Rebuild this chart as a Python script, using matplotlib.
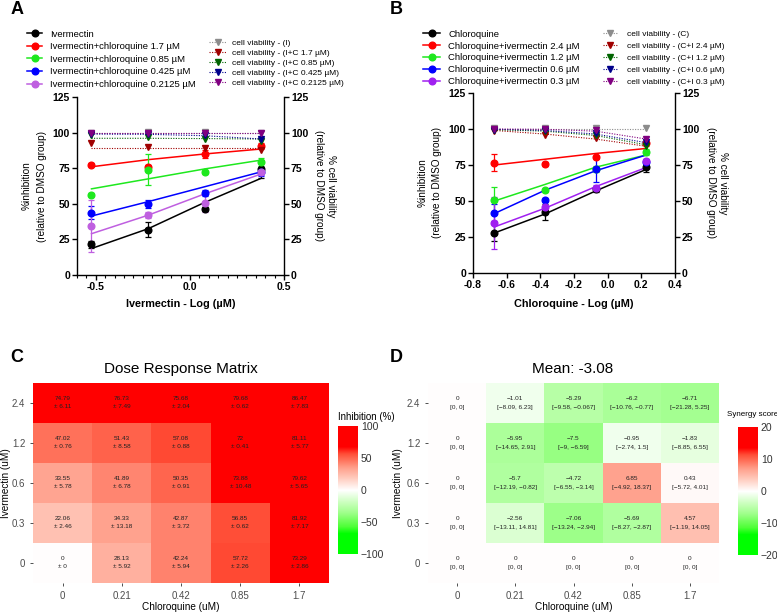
import numpy as np
import matplotlib
matplotlib.use("Agg")
import matplotlib.pyplot as plt
from matplotlib.colors import LinearSegmentedColormap
from matplotlib.lines import Line2D
from matplotlib.ticker import MultipleLocator

plt.rcParams["font.family"] = ["Liberation Sans", "DejaVu Sans"]

W, H = 777, 613

# ---- panel A: ivermectin dose response, x = log10(uM) ----
iver_log = [-0.523, -0.222, 0.079, 0.380]
a_labels = ["Ivermectin", "Ivermectin+chloroquine 1.7 µM", "Ivermectin+chloroquine 0.85 µM",
            "Ivermectin+chloroquine 0.425 µM", "Ivermectin+chloroquine 0.2125 µM"]
a_colors = ["#000000", "#FF0000", "#1EE81E", "#0000FF", "#BF5FE0"]
a_mean = [[21.6, 31.9, 46.5, 74.4],
          [77.4, 75.6, 84.9, 90.7],
          [56.5, 74.0, 72.0, 79.5],
          [43.7, 50.0, 57.4, 72.5],
          [34.4, 42.3, 50.5, 72.0]]
a_sd = [[2.5, 5.5, 1.5, 6.5],
        [1.0, 1.5, 3.0, 2.0],
        [1.0, 11.0, 1.0, 3.0],
        [4.5, 3.0, 2.0, 3.0],
        [18.5, 2.0, 6.5, 2.0]]
a_fit = [[18.6, 32.5, 51.0, 68.0],
         [76.0, 81.0, 85.0, 88.5],
         [60.5, 67.5, 74.5, 80.7],
         [41.4, 51.5, 62.0, 72.5],
         [29.0, 42.0, 57.0, 71.0]]
a_via_labels = ["cell viability - (I)", "cell viability - (I+C 1.7 µM)", "cell viability - (I+C 0.85 µM)",
                "cell viability - (I+C 0.425 µM)", "cell viability - (I+C 0.2125 µM)"]
a_via_colors = ["#8C8C8C", "#A00000", "#006400", "#00008B", "#800080"]
a_via = [[100.0, 100.5, 100.5, 100.0],
         [93.0, 90.0, 89.0, 88.0],
         [98.0, 97.0, 95.5, 94.0],
         [99.0, 99.0, 98.5, 95.5],
         [100.0, 99.5, 99.5, 99.5]]
a_via_fit = [[100.0, 100.0, 100.0, 100.0],
             [89.5, 89.5, 89.5, 89.5],
             [96.0, 96.0, 95.8, 95.5],
             [99.0, 98.8, 97.8, 95.5],
             [99.5, 99.5, 99.5, 99.5]]

# ---- panel B: chloroquine dose response ----
chlq_log = [-0.673, -0.372, -0.071, 0.230]
b_labels = ["Chloroquine", "Chloroquine+ivermectin 2.4 µM", "Chloroquine+ivermectin 1.2 µM",
            "Chloroquine+ivermectin 0.6 µM", "Chloroquine+ivermectin 0.3 µM"]
b_colors = ["#000000", "#FF0000", "#1EE81E", "#0000FF", "#A020F0"]
b_mean = [[28.0, 42.5, 58.0, 73.3],
          [76.6, 75.6, 80.3, 90.0],
          [51.0, 57.5, 72.0, 84.0],
          [42.0, 50.5, 72.5, 77.0],
          [34.8, 45.7, 59.0, 77.7]]
b_sd = [[6.0, 5.5, 1.5, 3.5],
        [6.0, 1.5, 1.0, 2.0],
        [8.5, 1.0, 2.0, 2.0],
        [6.0, 1.5, 9.0, 2.0],
        [18.0, 4.0, 2.0, 1.5]]
b_fit = [[27.8, 41.0, 57.0, 72.0],
         [75.0, 79.0, 83.0, 86.5],
         [50.0, 61.5, 73.5, 82.0],
         [41.3, 57.5, 71.0, 82.0],
         [32.0, 45.0, 60.0, 73.3]]
b_via_labels = ["cell viability - (C)", "cell viability - (C+I 2.4 µM)", "cell viability - (C+I 1.2 µM)",
                "cell viability - (C+I 0.6 µM)", "cell viability - (C+I 0.3 µM)"]
b_via_colors = ["#8C8C8C", "#A00000", "#006400", "#00008B", "#800080"]
b_via = [[100.5, 100.5, 100.5, 100.5],
         [98.5, 96.0, 93.5, 89.0],
         [99.0, 98.5, 96.0, 88.5],
         [99.5, 99.0, 97.5, 91.0],
         [100.0, 100.0, 99.0, 93.0]]
b_via_fit = [[100.0, 100.0, 100.0, 100.0],
             [99.0, 96.5, 93.0, 88.0],
             [99.5, 98.5, 95.5, 89.0],
             [99.8, 99.0, 96.5, 90.5],
             [100.0, 99.8, 98.5, 93.0]]

# ---- panels C / D: matrices, rows = ivermectin (top 2.4 -> bottom 0) ----
iver_ticks = ["2.4", "1.2", "0.6", "0.3", "0"]
chlq_ticks = ["0", "0.21", "0.42", "0.85", "1.7"]
inh_mean = [[74.79, 76.73, 75.68, 79.68, 86.47],
            [47.02, 51.43, 57.08, 72, 81.11],
            [33.55, 41.89, 50.35, 73.88, 79.62],
            [22.06, 34.33, 42.87, 56.85, 81.92],
            [0, 28.13, 42.24, 57.72, 73.29]]
inh_sd = [[6.11, 7.49, 2.04, 0.62, 7.83],
          [0.76, 8.58, 0.88, 0.41, 5.77],
          [5.78, 6.78, 0.91, 10.48, 5.65],
          [2.46, 13.18, 3.72, 0.62, 7.17],
          [0, 5.92, 5.94, 2.26, 2.86]]
syn = [[0, -1.01, -5.29, -6.2, -6.71],
       [0, -5.95, -7.5, -0.95, -1.83],
       [0, -5.7, -4.72, 6.85, 0.43],
       [0, -2.56, -7.06, -5.69, 4.57],
       [0, 0, 0, 0, 0]]
syn_lo = [[0, -8.09, -9.58, -10.76, -21.28],
          [0, -14.65, -9, -2.74, -8.85],
          [0, -12.19, -6.55, -4.92, -5.72],
          [0, -13.11, -13.24, -8.27, -1.19],
          [0, 0, 0, 0, 0]]
syn_hi = [[0, 6.23, -0.067, -0.77, 5.25],
          [0, 2.91, -6.59, 1.5, 6.55],
          [0, -0.82, -3.14, 18.37, 4.01],
          [0, 14.81, -2.94, -2.87, 14.05],
          [0, 0, 0, 0, 0]]


def box(l, t, r, b):
    return [l / W, 1 - b / H, (r - l) / W, (b - t) / H]


def ftext(x, y, s, **kw):
    fig.text(x / W, 1 - y / H, s, **kw)


fig = plt.figure(figsize=(W / 100, H / 100), dpi=100)


def dose_panel(rect, x, means, sds, fits, colors, via, via_fit, via_colors, xlim, xticks, xlabels, minor):
    ax = fig.add_axes(rect)
    for m, s, f, c in zip(means, sds, fits, colors):
        ax.plot(x, f, color=c, lw=1.1, zorder=3)
        ax.errorbar(x, m, yerr=s, fmt="o", color=c, ms=4.8, elinewidth=0.9,
                    capsize=2.3, capthick=0.9, zorder=4)
    ax2 = ax.twinx()
    for v, f, c in zip(via, via_fit, via_colors):
        ax2.plot(x, f, ls=(0, (1, 1.3)), color=c, lw=0.8)
        ax2.plot(x, v, "v", color=c, ms=4.3, ls="none")
    yt = [0, 25, 50, 75, 100, 125]
    for a in (ax, ax2):
        a.set_ylim(0, 125)
        a.set_yticks(yt, [str(t) for t in yt], fontweight="bold", fontsize=7.5)
        a.spines["top"].set_visible(False)
        for sp in a.spines.values():
            sp.set_linewidth(1.0)
        a.tick_params(width=1.0, length=3.5, pad=1.5)
    ax.spines["right"].set_visible(False)
    ax2.spines["left"].set_visible(False)
    ax2.spines["bottom"].set_visible(False)
    ax.set_xlim(*xlim)
    ax.set_xticks(xticks, xlabels, fontweight="bold", fontsize=7.5)
    if minor:
        ax.xaxis.set_minor_locator(MultipleLocator(minor))
        ax.tick_params(axis="x", which="minor", length=2, width=0.8)
    return ax


# Panel A
dose_panel(box(77, 97, 284, 275), iver_log, a_mean, a_sd, a_fit, a_colors,
           a_via, a_via_fit, a_via_colors, (-0.6, 0.5), [-0.5, 0.0, 0.5],
           ["-0.5", "0.0", "0.5"], 0.05)
# Panel B
dose_panel(box(473, 93, 675, 273), chlq_log, b_mean, b_sd, b_fit, b_colors,
           b_via, b_via_fit, b_via_colors, (-0.8, 0.4), [-0.8, -0.6, -0.4, -0.2, 0.0, 0.2, 0.4],
           ["-0.8", "-0.6", "-0.4", "-0.2", "0.0", "0.2", "0.4"], None)

ylab_l = "%inhibition\n(relative to DMSO group)"
ylab_r = "% cell viability\n(relative to DMSO group)"
ftext(34, 186, ylab_l, rotation=90, ha="center", va="center", fontsize=7.2,
      multialignment="center", linespacing=1.7)
ftext(325, 186, ylab_r, rotation=270, ha="center", va="center", fontsize=7.2,
      multialignment="center", linespacing=1.15)
ftext(430, 183, ylab_l, rotation=90, ha="center", va="center", fontsize=7.2,
      multialignment="center", linespacing=1.6)
ftext(717, 183, ylab_r, rotation=270, ha="center", va="center", fontsize=7.2,
      multialignment="center", linespacing=1.15)
ftext(181, 304, "Ivermectin - Log (µM)", ha="center", va="center", fontsize=7.8, fontweight="bold")
ftext(574, 304, "Chloroquine - Log (µM)", ha="center", va="center", fontsize=7.8, fontweight="bold")


def legends(labels, colors, via_labels, via_colors, left, right):
    h1 = [Line2D([], [], color=c, marker="o", ms=4.8, lw=1.1) for c in colors]
    h2 = [Line2D([], [], color=c, marker="v", ms=4.3, lw=0.8, ls=(0, (1, 1.3))) for c in via_colors]
    x, y, hl, tp, ls = left
    fig.legend(h1, labels, loc="upper left", bbox_to_anchor=(x / W, 1 - y / H), frameon=False,
               fontsize=6.8, handlelength=hl, handletextpad=tp, labelspacing=ls,
               borderpad=0, borderaxespad=0, numpoints=1)
    x, y, hl, tp, ls = right
    fig.legend(h2, via_labels, loc="upper left", bbox_to_anchor=(x / W, 1 - y / H), frameon=False,
               fontsize=6.0, handlelength=hl, handletextpad=tp, labelspacing=ls,
               borderpad=0, borderaxespad=0, numpoints=1)


legends(a_labels, a_colors, a_via_labels, a_via_colors,
        (27, 29.6, 1.6, 0.85, 0.38), (209, 39.2, 2.1, 0.7, 0.25))
legends(b_labels, b_colors, b_via_labels, b_via_colors,
        (423, 29.6, 1.8, 0.85, 0.31), (603, 30.2, 1.7, 1.2, 0.5))

# colour scale green - white - red (normalised position, rgb)
nodes = [0.0, 0.16, 0.215, 0.265, 0.325, 0.4, 0.5, 0.6, 0.675, 0.735, 0.785, 0.84, 1.0]
rgb = [(0, 255, 0), (0, 255, 0), (78, 255, 55), (115, 255, 92), (160, 255, 140), (200, 255, 186),
       (255, 255, 255), (255, 200, 186), (255, 160, 140), (255, 115, 92), (255, 78, 55),
       (255, 0, 0), (255, 0, 0)]
cmap = LinearSegmentedColormap.from_list(
    "gwr", [(p, tuple(v / 255 for v in c)) for p, c in zip(nodes, rgb)])


def fmt(v):
    return f"{v:g}".replace("-", "\u2212")


def heat_panel(rect, vals, texts, vmax, crect, cticks, ctitle, ctitle_xy, ctitle_size):
    ax = fig.add_axes(rect)
    im = ax.imshow(np.array(vals, dtype=float), cmap=cmap, vmin=-vmax, vmax=vmax,
                   aspect="auto", interpolation="nearest")
    for i, row in enumerate(texts):
        for j, t in enumerate(row):
            ax.text(j, i, t, ha="center", va="center", fontsize=4.6, color="#222222",
                    linespacing=1.75)
    for sp in ax.spines.values():
        sp.set_visible(False)
    ax.set_xticks(range(5), chlq_ticks)
    ax.set_yticks(range(5), iver_ticks)
    ax.tick_params(labelsize=7, labelcolor="#4D4D4D", color="#333333", length=2.5,
                   width=0.6, pad=3)
    cax = fig.add_axes(crect)
    cb = fig.colorbar(im, cax=cax)
    cb.outline.set_visible(False)
    cb.set_ticks(cticks, labels=[fmt(t) for t in cticks])
    cax.tick_params(length=0, labelsize=7.5, pad=2, labelcolor="#333333")
    ftext(ctitle_xy[0], ctitle_xy[1], ctitle, ha="left", va="center", fontsize=ctitle_size)
    return ax


c_text = [[f"{m:g}\n± {s:g}" for m, s in zip(mr, sr)] for mr, sr in zip(inh_mean, inh_sd)]
d_text = [[f"{fmt(v)}\n[{fmt(lo)}, {fmt(hi)}]" for v, lo, hi in zip(vr, lr, hr)]
          for vr, lr, hr in zip(syn, syn_lo, syn_hi)]

heat_panel(box(33, 383, 329, 583), inh_mean, c_text, 100, box(338, 426, 358, 554),
           [-100, -50, 0, 50, 100], "Inhibition (%)", (338, 417), 7)
heat_panel(box(428, 383, 719, 583), syn, d_text, 20, box(738, 427, 758, 555),
           [-20, -10, 0, 10, 20], "Synergy score", (727, 414), 5.8)

ftext(181, 369, "Dose Response Matrix", ha="center", va="center", fontsize=11)
ftext(573, 369, "Mean: -3.08", ha="center", va="center", fontsize=11)
ftext(181, 607, "Chloroquine (uM)", ha="center", va="center", fontsize=7.2)
ftext(574, 607, "Chloroquine (uM)", ha="center", va="center", fontsize=7.2)
ftext(6, 483, "Ivermectin (uM)", rotation=90, ha="center", va="center", fontsize=7.2)
ftext(398, 483, "Ivermectin (uM)", rotation=90, ha="center", va="center", fontsize=7.2)

for s, x, y in [("A", 17, 10), ("B", 396, 10), ("C", 17, 358), ("D", 396, 358)]:
    ftext(x, y, s, ha="center", va="center", fontsize=13, fontweight="bold")

fig.savefig("out.png", dpi=100)
